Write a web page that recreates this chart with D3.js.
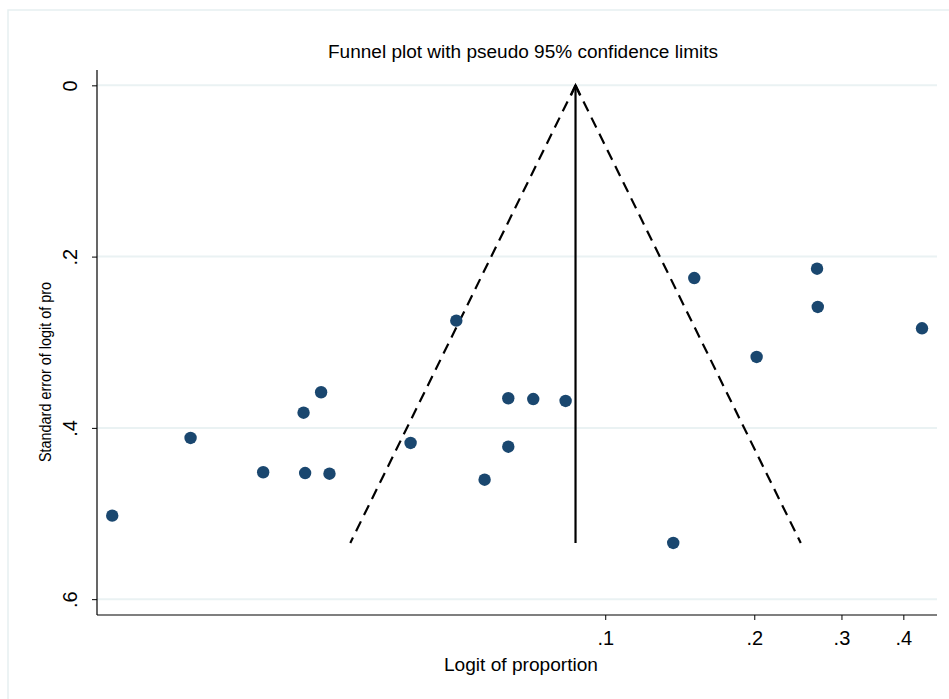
<!DOCTYPE html>
<html>
<head>
<meta charset="utf-8">
<script src="https://cdn.jsdelivr.net/npm/d3@7"></script>
<style>
  body { margin: 0; background: #fff; }
  text { font-family: "Liberation Sans", Arial, sans-serif; fill: #000; }
</style>
</head>
<body>
<div id="chart"></div>
<script>
// study estimates (proportion, log axis) and their standard errors
var studyProp = [0.0101, 0.01454, 0.02038, 0.02459, 0.02668, 0.02477, 0.02774, 0.04045, 0.05003, 0.05707,
                 0.06371, 0.06371, 0.07155, 0.08318, 0.1372, 0.1513, 0.2022, 0.2678, 0.2687, 0.4363];
var studySE   = [0.5025, 0.4118, 0.4518, 0.3823, 0.3584, 0.4527, 0.4535, 0.4176, 0.2748, 0.4605,
                 0.3654, 0.4220, 0.3663, 0.3686, 0.5344, 0.2250, 0.3172, 0.2141, 0.2588, 0.2837];

// pooled estimate and pseudo 95% limits
var pooled = 0.0871;
var zCrit = 1.96;

var xTicks = [0.1, 0.2, 0.3, 0.4];
var yTicks = [0, 0.2, 0.4, 0.6];

var W = 949, H = 699;
var mLeft = 97, mRight = 937, mTop = 70, mBottom = 615;

var svg = d3.select("#chart").append("svg")
  .attr("width", W).attr("height", H);

// light outer frame
svg.append("rect")
  .attr("x", 8).attr("y", 10)
  .attr("width", W).attr("height", H)
  .attr("fill", "none").attr("stroke", "#e6eff1").attr("stroke-width", 1.5);

var x = d3.scaleLog()
  .domain([0.00941, 0.4678])
  .range([mLeft, mRight]);

var y = d3.scaleLinear()
  .domain([-0.0179, 0.6185])
  .range([mTop, mBottom]);

// grid lines
svg.append("g").selectAll("line")
  .data(yTicks)
  .enter().append("line")
    .attr("x1", mLeft).attr("x2", mRight)
    .attr("y1", function(d) { return y(d); })
    .attr("y2", function(d) { return y(d); })
    .attr("stroke", "#eaf2f3").attr("stroke-width", 2);

var fmt = function(d) { return d === 0 ? "0" : d3.format(".1f")(d).replace(/^0/, ""); };

// y axis
var yAxis = svg.append("g")
  .attr("transform", "translate(" + mLeft + ",0)")
  .call(d3.axisLeft(y).tickValues(yTicks).tickSize(5).tickFormat(fmt));
yAxis.select(".domain").attr("d", "M0," + mTop + "V" + mBottom).attr("stroke", "#000").attr("stroke-width", 1.2);
yAxis.selectAll(".tick line").attr("stroke", "#000");
yAxis.selectAll(".tick text")
  .attr("font-size", 20)
  .attr("text-anchor", "middle")
  .attr("transform", "rotate(-90)")
  .attr("x", 0).attr("dy", 0)
  .attr("y", -20);

// x axis
var xAxis = svg.append("g")
  .attr("transform", "translate(0," + mBottom + ")")
  .call(d3.axisBottom(x).tickValues(xTicks).tickSize(5).tickPadding(11).tickFormat(fmt));
xAxis.select(".domain").attr("d", "M" + mLeft + ",0H" + mRight).attr("stroke", "#000").attr("stroke-width", 1.2);
xAxis.selectAll(".tick line").attr("stroke", "#000");
xAxis.selectAll(".tick text").attr("font-size", 20);

// funnel limits
var seMax = d3.max(studySE);
var funnelL = [[pooled, 0], [Math.exp(Math.log(pooled) - zCrit * seMax), seMax]];
var funnelR = [[pooled, 0], [Math.exp(Math.log(pooled) + zCrit * seMax), seMax]];
var line = d3.line()
  .x(function(d) { return x(d[0]); })
  .y(function(d) { return y(d[1]); });

[funnelL, funnelR].forEach(function(f) {
  svg.append("path")
    .attr("d", line(f))
    .attr("fill", "none").attr("stroke", "#000")
    .attr("stroke-width", 2.2).attr("stroke-dasharray", "11,7");
});

// pooled estimate line with arrow
svg.append("path")
  .attr("d", line([[pooled, seMax], [pooled, 0]]))
  .attr("stroke", "#000").attr("stroke-width", 2.2).attr("fill", "none");
var ax = x(pooled), ay = y(0);
svg.append("path")
  .attr("d", "M" + (ax - 4.5) + "," + (ay + 10) + "L" + ax + "," + ay + "L" + (ax + 4.5) + "," + (ay + 10))
  .attr("stroke", "#000").attr("stroke-width", 2.2).attr("fill", "none");

// study points
svg.append("g").selectAll("circle")
  .data(studyProp)
  .enter().append("circle")
    .attr("cx", function(d) { return x(d); })
    .attr("cy", function(d, i) { return y(studySE[i]); })
    .attr("r", 6.2)
    .attr("fill", "#1a476f");

// titles
svg.append("text")
  .attr("x", 523).attr("y", 58)
  .attr("text-anchor", "middle").attr("font-size", 17.5)
  .attr("textLength", 390).attr("lengthAdjust", "spacingAndGlyphs")
  .text("Funnel plot with pseudo 95% confidence limits");

svg.append("text")
  .attr("x", 521).attr("y", 671)
  .attr("text-anchor", "middle").attr("font-size", 17.5)
  .attr("textLength", 154).attr("lengthAdjust", "spacingAndGlyphs")
  .text("Logit of proportion");

svg.append("text")
  .attr("transform", "translate(51,372) rotate(-90)")
  .attr("text-anchor", "middle").attr("font-size", 16.5)
  .attr("textLength", 180).attr("lengthAdjust", "spacingAndGlyphs")
  .text("Standard error of logit of pro");
</script>
</body>
</html>
